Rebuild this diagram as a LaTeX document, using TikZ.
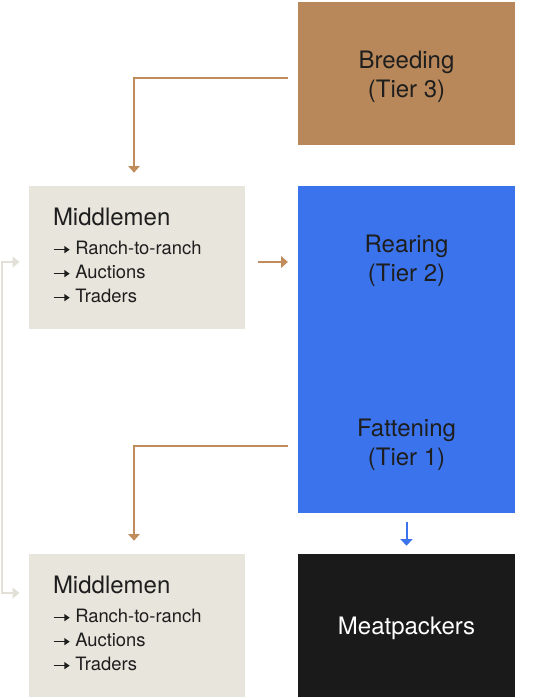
\documentclass[tikz,border=0pt]{standalone}
\usepackage{fontspec}
\setmainfont{TeX Gyre Heros}
\usetikzlibrary{arrows.meta,calc}
\definecolor{brownbox}{HTML}{B9885A}
\definecolor{brownline}{HTML}{C08C5C}
\definecolor{bluebox}{HTML}{3A73EB}
\definecolor{beige}{HTML}{E8E5DD}
\definecolor{lightline}{HTML}{E3E0D8}
\definecolor{blackbox}{HTML}{1A1A1A}
\definecolor{textdark}{HTML}{1E1E1E}
\newcommand{\itemarrow}{\tikz[baseline={(0pt,-3.6pt)}]\draw[textdark,line width=1.1pt,-{Triangle[length=4pt,width=5.2pt]}] (0pt,0pt) -- (12pt,0pt);\hspace{3.6pt}}
\newcommand{\topstrut}{\rule{0pt}{17.6pt}}
\newcommand{\botstrut}{\rule[-3.2pt]{0pt}{3.2pt}}
\begin{document}
\begin{tikzpicture}[x=0.75pt,y=-0.75pt,
  tierbox/.style={rectangle, minimum width=162.5pt, minimum height=107.25pt, inner sep=0pt,
    align=center, font=\fontsize{18}{21.75}\selectfont, text=textdark},
  midbox/.style={tierbox, fill=beige, align=left, text width=126pt, inner xsep=18pt,
    font=\fontsize{13.8}{18}\selectfont},
  brarrow/.style={draw=brownline, line width=1.5pt, -{Triangle[width=8.5pt,length=5pt]}},
  blarrow/.style={draw=bluebox, line width=1.5pt, -{Triangle[width=9pt,length=5pt]}},
  ltarrow/.style={draw=lightline, line width=1.5pt, {Triangle[width=8pt,length=5pt]}-{Triangle[width=8pt,length=5pt]}}
]
\useasboundingbox (0,0) rectangle (540,698);

\node[tierbox, fill=brownbox] (breed) at (406.5,73.5) {\topstrut Breeding\\(Tier 3)};
\node[tierbox, fill=bluebox] (rear) at (406.5,257.5) {\topstrut Rearing\\(Tier 2)};
\node[tierbox, fill=bluebox] (fatt) at (406.5,441.5) {\topstrut Fattening\\(Tier 1)};
\fill[bluebox] ($(rear.south west)+(0,-1)$) rectangle ($(fatt.north east)+(0,1)$);
\node[tierbox, fill=blackbox, text=white] (meat) at (406.5,625.5) {\topstrut Meatpackers};

\node[midbox] (mid1) at (137,257.5) {{\fontsize{18}{18}\selectfont Middlemen}\\[3.5pt]
  \itemarrow Ranch-to-ranch\\ \itemarrow Auctions\\ \itemarrow Traders\botstrut};
\node[midbox] (mid2) at (137,625.5) {{\fontsize{18}{18}\selectfont Middlemen}\\[3.5pt]
  \itemarrow Ranch-to-ranch\\ \itemarrow Auctions\\ \itemarrow Traders\botstrut};

\draw[brarrow] ($(breed.west)+(-10,4.5)$) -| ($(mid1.north)+(-3,-13)$);
\draw[brarrow] ($(mid1.east)+(12,4.5)$) -- ($(rear.west)+(-10,4.5)$);
\draw[brarrow] ($(fatt.west)+(-10,4.5)$) -| ($(mid2.north)+(-3,-13)$);
\draw[blarrow] ($(fatt.south)+(0,9)$) -- ($(meat.north)+(0,-8)$);

\coordinate (lA) at ($(mid1.west)+(-9,4.5)$);
\coordinate (lB) at ($(mid2.west)+(-9,-32.5)$);
\draw[ltarrow] (lA) -- ($(lA)+(-17,0)$) |- (lB);
\end{tikzpicture}
\end{document}
